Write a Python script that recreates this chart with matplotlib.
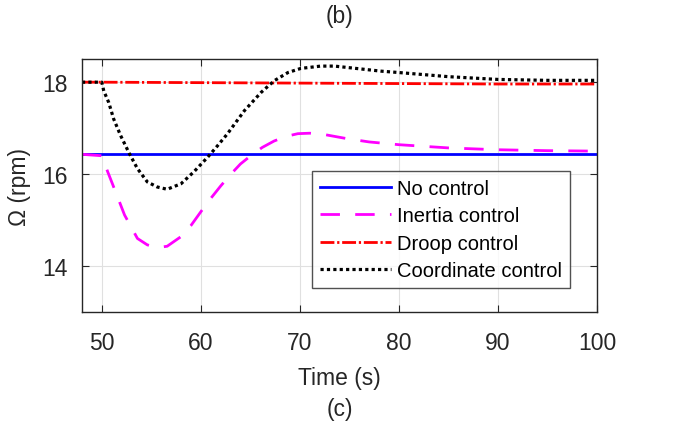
import matplotlib
matplotlib.use("Agg")
import matplotlib.pyplot as plt

plt.rcParams['font.family'] = ['Liberation Sans', 'DejaVu Sans']

# Rotor speed responses after the disturbance at t = 50 s
t_flat = [48, 50, 100]
no_control = [16.43, 16.43, 16.43]

t_droop = [48, 50, 60, 70, 80, 90, 100]
droop = [18.0, 18.0, 17.99, 17.98, 17.97, 17.96, 17.96]

t_inertia = [48, 50.0, 50.6, 51.4, 52.3, 53.6, 54.6, 55.6, 56.6, 58.0, 59.0, 60.0,
             61.0, 62.0, 63.0, 64.0, 65.1, 66.2, 67.4, 68.6, 69.8, 71.0, 72.5,
             74.8, 77.0, 80.0, 85.0, 90.0, 95.0, 100.0]
inertia = [16.43, 16.40, 16.05, 15.61, 15.11, 14.60, 14.46, 14.40, 14.43, 14.64,
           14.88, 15.18, 15.47, 15.74, 15.99, 16.22, 16.41, 16.58, 16.72, 16.82,
           16.88, 16.89, 16.86, 16.77, 16.70, 16.64, 16.57, 16.53, 16.51, 16.50]

t_coord = [48, 50.0, 50.2, 50.7, 51.2, 51.9, 52.8, 53.6, 54.6, 55.6, 56.6, 58.0,
           59.3, 60.7, 61.7, 62.7, 64.4, 66.1, 67.4, 68.8, 70.1, 72.1, 73.5,
           74.8, 78.2, 80.0, 85.0, 90.0, 95.0, 100.0]
coord = [18.0, 18.0, 17.81, 17.56, 17.20, 16.84, 16.44, 16.12, 15.83, 15.72,
         15.67, 15.79, 16.05, 16.37, 16.62, 16.88, 17.38, 17.78, 18.03, 18.21,
         18.30, 18.35, 18.35, 18.32, 18.24, 18.21, 18.12, 18.06, 18.04, 18.04]

x_ticks = [50, 60, 70, 80, 90, 100]
y_ticks = [14, 16, 18]

fig = plt.figure(figsize=(6.73, 4.27), dpi=100)
ax = fig.add_axes([0.1218, 0.267, 0.7652, 0.592])

lw = 2.0
ax.plot(t_flat, no_control, color='#0000ff', lw=lw, ls='-', label='No control')
ax.plot(t_inertia, inertia, color='#ff00ff', lw=lw, ls=(0, (7, 5.5)), label='Inertia control')
ax.plot(t_droop, droop, color='#ff0000', lw=lw, ls=(0, (5, 1, 0.8, 1)), label='Droop control')
ax.plot(t_coord, coord, color='black', lw=2.3, ls=(0, (1, 1)), label='Coordinate control')

ax.set_xlim(48, 100)
ax.set_ylim(13, 18.5)
ax.set_xticks(x_ticks)
ax.set_yticks(y_ticks)
ax.grid(True, color='#e0e0e0', lw=0.8)
ax.set_axisbelow(True)
ax.tick_params(direction='in', length=5, labelsize=16.5, colors='#262626',
               top=True, right=True)
ax.tick_params(axis='x', pad=14)
ax.tick_params(axis='y', pad=10)
for s in ax.spines.values():
    s.set_color('#262626')
    s.set_linewidth(1.0)

ax.set_xlabel('Time (s)', fontsize=16.5, color='#262626', labelpad=8)
ax.set_ylabel('Ω (rpm)', fontsize=16.5, color='#262626', labelpad=8)

leg = ax.legend(loc='lower right', bbox_to_anchor=(0.947, 0.094), fontsize=14.5,
                frameon=True, fancybox=False, edgecolor='#262626',
                handlelength=3.5, handletextpad=0.3, borderpad=0.4,
                labelspacing=0.42, borderaxespad=0)
leg.get_frame().set_linewidth(1.0)

fig.text(0.505, 0.962, '(b)', ha='center', va='center', fontsize=16.5, color='#262626')
fig.text(0.505, 0.04, '(c)', ha='center', va='center', fontsize=16.5, color='#262626')

fig.savefig('out.png', dpi=100)
